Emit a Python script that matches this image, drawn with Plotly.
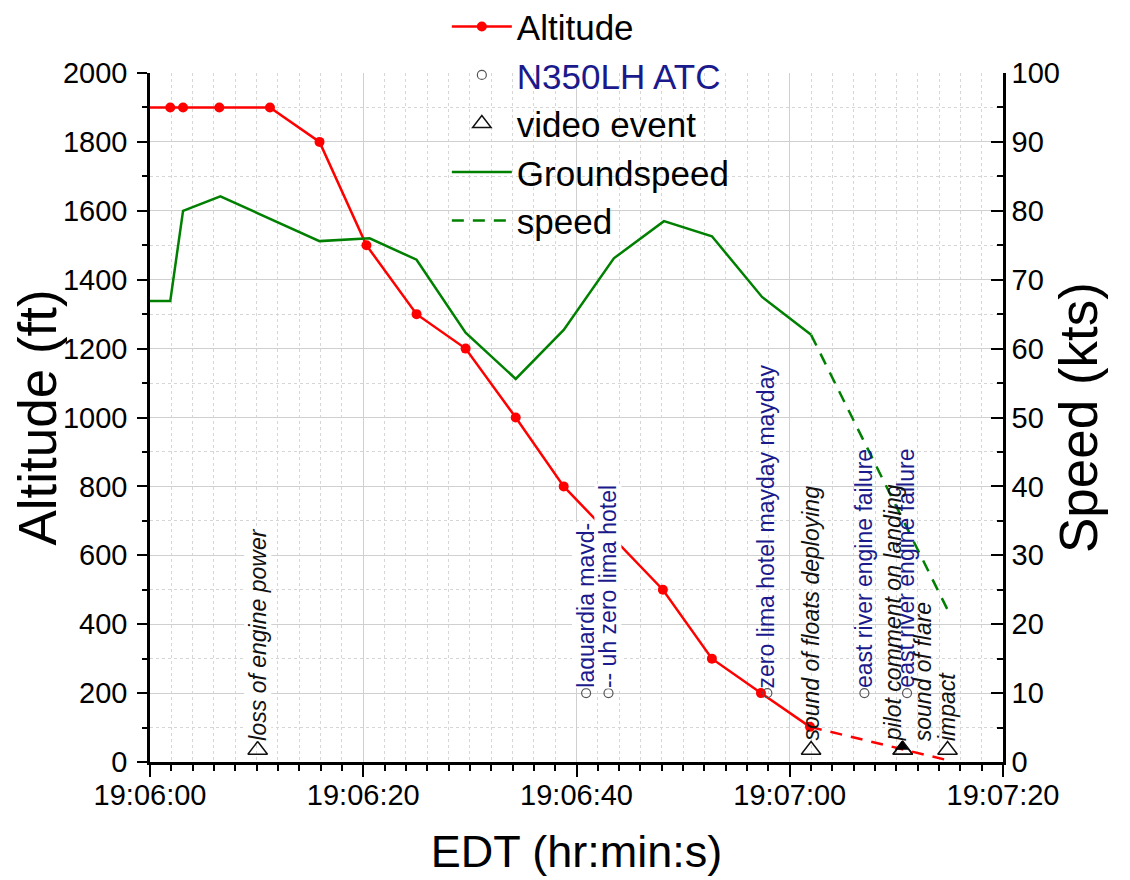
import plotly.graph_objects as go

# ---------------- data (seconds after 19:06:00) ----------------
alt_time = [-2, 1.9, 3.1, 6.5, 11.25, 15.9, 20.3, 25.0, 29.6, 34.3, 38.8, 48.1, 52.7, 57.3, 61.9]
alt_ft = [1900, 1900, 1900, 1900, 1900, 1800, 1500, 1300, 1200, 1000, 800, 500, 300, 200, 102]

alt_est_time = [61.9, 75.1]
alt_est_ft = [102, 3]

gs_time = [-2, 1.9, 3.1, 6.6, 15.9, 20.6, 25.0, 29.6, 34.3, 38.8, 43.5, 48.2, 52.7, 57.4, 62.0]
gs_kts = [66.9, 66.9, 80.0, 82.1, 75.6, 76.0, 72.9, 62.3, 55.6, 62.7, 73.1, 78.5, 76.3, 67.5, 62.0]

spd_time = [62.0, 74.8]
spd_kts = [62.0, 22.1]

atc_time = [40.9, 43.0, 57.9, 67.0, 71.0]
atc_ft = [200, 200, 200, 200, 200]
atc_text = ["laguardia mayd-", "-- uh zero lima hotel", "zero lima hotel mayday mayday",
            "east river engine failure", "east river engine failure"]

vid_time = [10.1, 62.0, 70.6, 70.6, 74.8]
vid_ft = [35, 35, 35, 35, 35]
vid_text = ["loss of engine power", "sound of floats deploying", "pilot comment on landing",
            "sound of flare", "impact"]

vid_mark_time = [70.5]
vid_mark_ft = [44]

x_tickvals = [0, 20, 40, 60, 80]
x_ticktext = ["19:06:00", "19:06:20", "19:06:40", "19:07:00", "19:07:20"]

# ---------------- styling ----------------
FONT = "Liberation Sans, Arial, sans-serif"
RED = "#ff0000"
GREEN = "#008000"
NAVY = "#1a1a8c"

fig = go.Figure()

fig.add_trace(go.Scatter(x=alt_time, y=alt_ft, name="Altitude", mode="lines+markers",
                         line=dict(color=RED, width=2.5), marker=dict(color=RED, size=10)))
fig.add_trace(go.Scatter(x=atc_time, y=atc_ft, name=f"<span style='color:{NAVY}'>N350LH ATC</span>",
                         mode="markers",
                         marker=dict(symbol="circle-open", color="#555555", size=9,
                                     line=dict(width=1.2))))
fig.add_trace(go.Scatter(x=vid_time, y=vid_ft, name="video event", mode="markers",
                         marker=dict(symbol="triangle-up-open", color="#111111", size=17,
                                     line=dict(width=1.5))))
fig.add_trace(go.Scatter(x=gs_time, y=gs_kts, name="Groundspeed", mode="lines", yaxis="y2",
                         line=dict(color=GREEN, width=2.5)))
fig.add_trace(go.Scatter(x=spd_time, y=spd_kts, name="speed", mode="lines", yaxis="y2",
                         line=dict(color=GREEN, width=2.5, dash="12px,9px")))
fig.add_trace(go.Scatter(x=alt_est_time, y=alt_est_ft, mode="lines", showlegend=False,
                         line=dict(color=RED, width=2.5, dash="12px,9px")))
fig.add_trace(go.Scatter(x=vid_mark_time, y=vid_mark_ft, mode="markers", showlegend=False,
                         marker=dict(symbol="triangle-up", color="black", size=12)))

# ---------------- annotations ----------------
atc_bg = [True, True, False, False, False]
for t, y, txt, bg in zip(atc_time, atc_ft, atc_text, atc_bg):
    fig.add_annotation(x=t, y=y, text=txt, textangle=-90, showarrow=False,
                       xanchor="center", yanchor="bottom", yshift=4, xshift=-1,
                       font=dict(family=FONT, size=23, color=NAVY),
                       bgcolor="white" if bg else None, borderpad=0)

vid_shift = [0, 0, -9, 21, 0]
vid_bg = [True, False, False, False, False]
for t, y, txt, dx, bg in zip(vid_time, vid_ft, vid_text, vid_shift, vid_bg):
    fig.add_annotation(x=t, y=y, text=f"<i>{txt}</i>", textangle=-90, showarrow=False,
                       xanchor="center", yanchor="bottom", yshift=8, xshift=dx,
                       font=dict(family=FONT, size=23, color="#111111"),
                       bgcolor="white" if bg else None, borderpad=0)

# ---------------- axes ----------------
tickfont = dict(family=FONT, size=29, color="black")
ytitlefont = dict(family=FONT, size=53, color="black")
xtitlefont = dict(family=FONT, size=45, color="black")

fig.update_layout(
    width=1122, height=872,
    margin=dict(l=142, r=127, t=65, b=118, autoexpand=False),
    plot_bgcolor="white", paper_bgcolor="white",
    font=dict(family=FONT, color="black"),
    xaxis=dict(range=[0, 80], tickmode="array", tickvals=x_tickvals, ticktext=x_ticktext,
               ticks="outside", ticklen=12, tickwidth=2, tickcolor="black",
               ticklabelstandoff=-7,
               showline=True, linecolor="black", linewidth=2.5,
               showgrid=True, gridcolor="#d0d0d0", gridwidth=1, zeroline=False,
               tickfont=tickfont, automargin=False,
               title=dict(text="EDT (hr:min:s)", font=xtitlefont, standoff=26),
               minor=dict(tick0=0, dtick=2, ticks="outside", ticklen=6, tickwidth=1.5,
                          tickcolor="black", showgrid=True, gridcolor="#d6d6d6",
                          griddash="dot", gridwidth=1)),
    yaxis=dict(range=[0, 2000], dtick=200, tick0=0,
               ticks="outside", ticklen=10, tickwidth=2, tickcolor="black",
               ticklabelstandoff=4,
               showline=True, linecolor="black", linewidth=2.5,
               showgrid=True, gridcolor="#d0d0d0", gridwidth=1, zeroline=False,
               tickfont=tickfont, automargin=False,
               title=dict(text="Altitude (ft)", font=ytitlefont, standoff=8),
               minor=dict(tick0=0, dtick=100, ticks="outside", ticklen=5, tickwidth=1.5,
                          tickcolor="black", showgrid=True, gridcolor="#d6d6d6",
                          griddash="dot", gridwidth=1)),
    yaxis2=dict(range=[0, 100], dtick=10, tick0=0, overlaying="y", side="right",
                ticks="inside", ticklen=12, tickwidth=2, tickcolor="black",
                showline=True, linecolor="black", linewidth=2.5,
                showgrid=False, zeroline=False, tickfont=tickfont, automargin=False,
                title=dict(text="Speed (kts)", font=ytitlefont, standoff=1),
                minor=dict(tick0=0, dtick=5, ticks="inside", ticklen=6, tickwidth=1.5,
                           tickcolor="black", showgrid=False)),
    legend=dict(x=0.348, y=1.11, xanchor="left", yanchor="top",
                bgcolor="rgba(0,0,0,0)", borderwidth=0,
                font=dict(family=FONT, size=35, color="black"),
                tracegroupgap=0, itemwidth=60),
)

fig.write_html("out.html")
